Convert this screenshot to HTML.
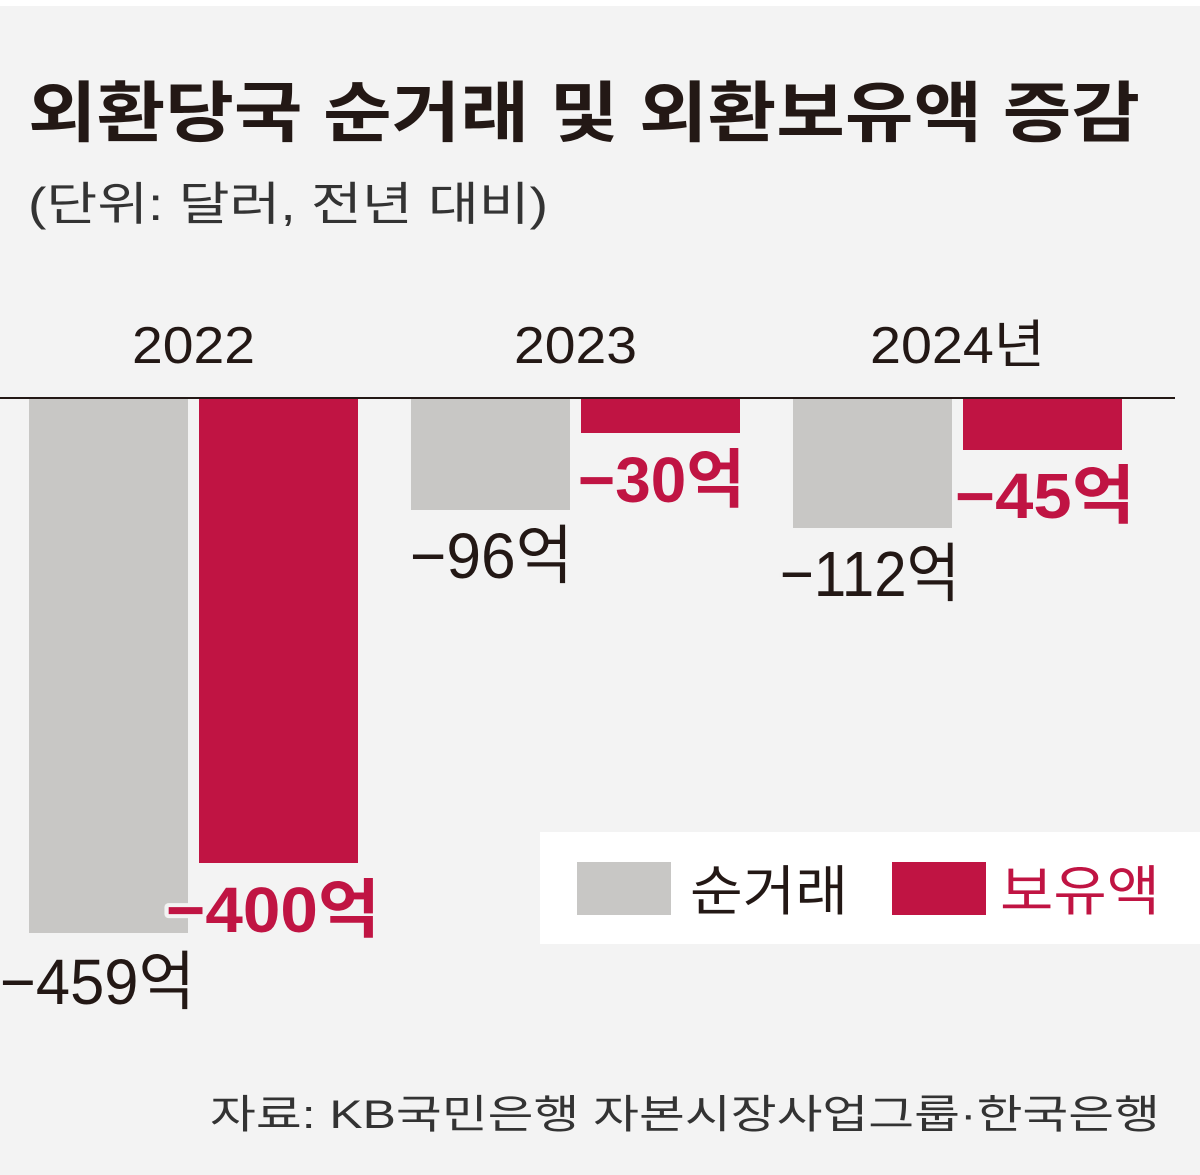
<!DOCTYPE html>
<html><head><meta charset="utf-8"><style>
html,body{margin:0;padding:0;background:#fff;}
svg{display:block;}
text{font-family:"Liberation Sans","Noto Sans CJK KR",sans-serif;}
</style></head><body>
<svg width="1200" height="1175" viewBox="0 0 1200 1175" xmlns="http://www.w3.org/2000/svg">
<rect x="0" y="6" width="1200" height="1169" fill="#f3f3f3"/>
<text x="28" y="136" font-size="66" font-weight="700" fill="#231815" textLength="1112" lengthAdjust="spacingAndGlyphs">외환당국 순거래 및 외환보유액 증감</text>
<text x="28" y="220" font-size="46" fill="#333" textLength="520" lengthAdjust="spacingAndGlyphs">(단위: 달러, 전년 대비)</text>
<g font-size="52" fill="#231815">
<text x="132" y="363" textLength="123" lengthAdjust="spacingAndGlyphs">2022</text>
<text x="514" y="363" textLength="123" lengthAdjust="spacingAndGlyphs">2023</text>
<text x="870" y="363" textLength="175" lengthAdjust="spacingAndGlyphs">2024년</text>
</g>
<g fill="#c8c7c5">
<rect x="29" y="398" width="159" height="535"/>
<rect x="411" y="398" width="159" height="112"/>
<rect x="793" y="398" width="159" height="130"/>
</g>
<g fill="#c01443">
<rect x="199" y="398" width="159" height="465"/>
<rect x="581" y="398" width="159" height="35"/>
<rect x="963" y="398" width="159" height="52"/>
</g>
<line x1="0" y1="398" x2="1175" y2="398" stroke="#231815" stroke-width="2"/>
<g font-size="64" stroke="#f3f3f3" stroke-width="8" paint-order="stroke" stroke-linejoin="round" lengthAdjust="spacingAndGlyphs">
<text x="0" y="1004" fill="#231815" textLength="195" lengthAdjust="spacingAndGlyphs">−459억</text>
<text x="166" y="932" fill="#c01443" font-weight="700" textLength="214" lengthAdjust="spacingAndGlyphs">−400억</text>
<text x="410" y="578" fill="#231815" textLength="163" lengthAdjust="spacingAndGlyphs">−96억</text>
<text x="578" y="502" fill="#c01443" font-weight="700" textLength="167" lengthAdjust="spacingAndGlyphs">−30억</text>
<text x="780" y="596" fill="#231815" textLength="180" lengthAdjust="spacingAndGlyphs">−112억</text>
<text x="955" y="518" fill="#c01443" font-weight="700" textLength="180" lengthAdjust="spacingAndGlyphs">−45억</text>
</g>
<rect x="540" y="832" width="660" height="112" fill="#fff"/>
<rect x="577" y="862" width="94" height="53" fill="#c8c7c5"/>
<rect x="892" y="862" width="94" height="53" fill="#c01443"/>
<g font-size="54">
<text x="690" y="910" fill="#231815" textLength="158" lengthAdjust="spacingAndGlyphs">순거래</text>
<text x="1000" y="910" fill="#c01443" textLength="160" lengthAdjust="spacingAndGlyphs">보유액</text>
</g>
<text x="210" y="1128" font-size="40" fill="#333" textLength="950" lengthAdjust="spacingAndGlyphs">자료: KB국민은행 자본시장사업그룹·한국은행</text>
</svg>
</body></html>
